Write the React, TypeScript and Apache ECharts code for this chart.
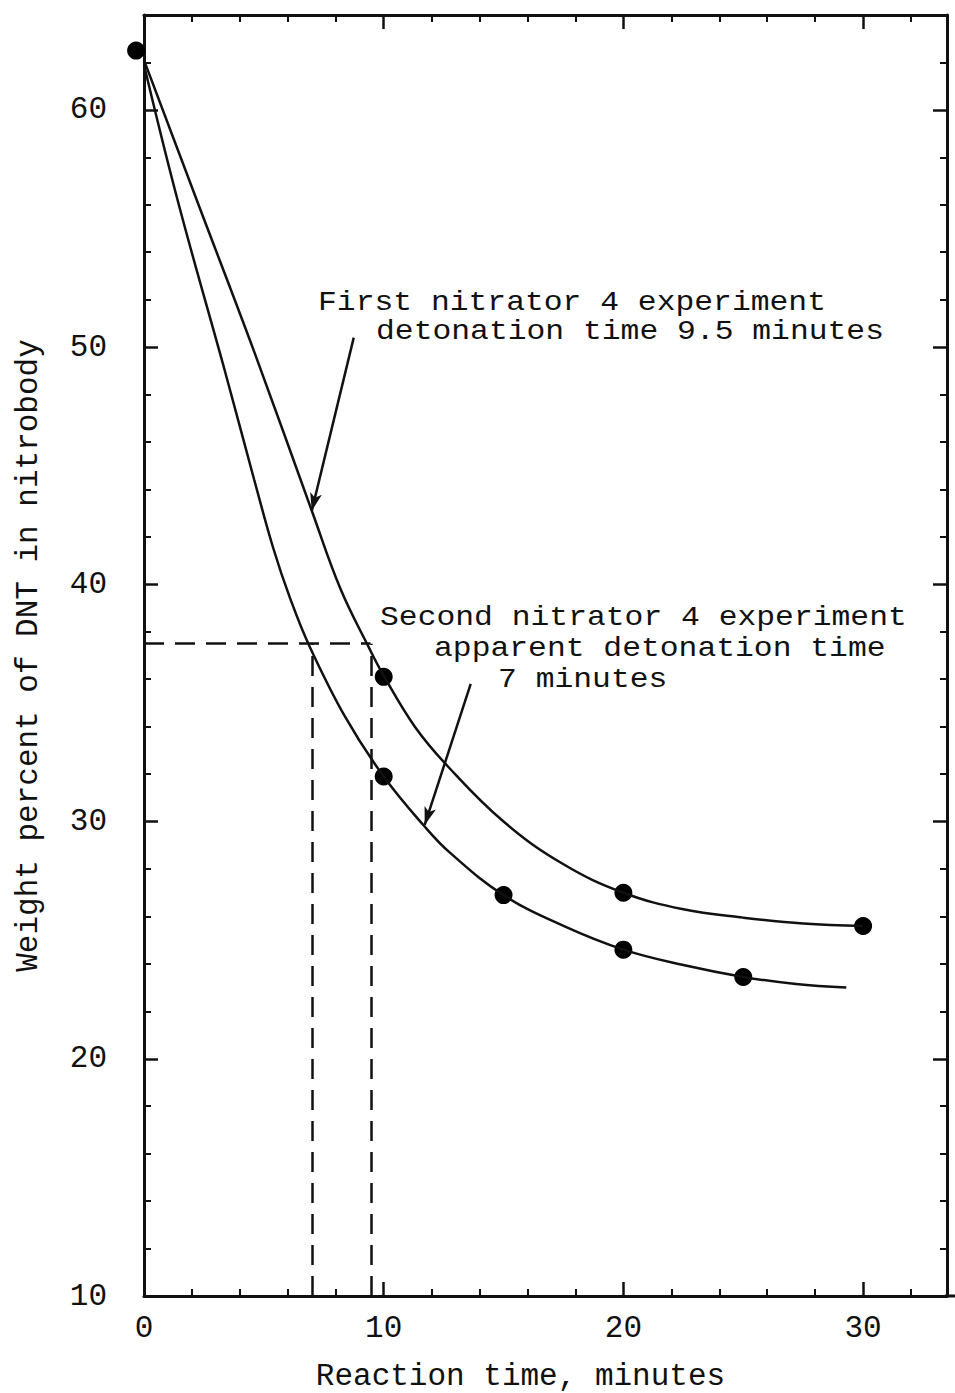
import React, { useEffect, useRef } from "react";
import * as echarts from "echarts";

// Smooth fitted curves
const upperCurveX = [0, 2.2, 4.6, 7.0, 8.2, 9.4, 10.0, 11.3, 12.7, 15.0, 17.5, 20.0, 22.5, 25.0, 27.5, 30.0];
const upperCurveY = [62.1, 56.2, 49.8, 43.1, 39.8, 37.3, 36.15, 34.0, 32.3, 30.0, 28.2, 27.0, 26.3, 25.95, 25.7, 25.6];
const lowerCurveX = [0, 1.4, 3.4, 4.6, 5.4, 6.1, 6.9, 8.4, 10.0, 11.7, 12.75, 15.0, 17.5, 20.0, 22.5, 25.0, 27.2, 29.3];
const lowerCurveY = [61.9, 56.2, 48.9, 44.4, 41.5, 39.4, 37.4, 34.4, 31.9, 29.8, 28.7, 26.9, 25.6, 24.6, 23.95, 23.45, 23.15, 23.0];

// Measured points
const upperPtsX = [-0.33, 10, 20, 30];
const upperPtsY = [62.5, 36.1, 27.0, 25.6];
const lowerPtsX = [10, 15, 20, 25];
const lowerPtsY = [31.9, 26.9, 24.6, 23.45];

// Reference construction lines
const levelY = 37.5;
const detTimes = [7.0, 9.5];

// Arrows [fromX, fromY, toX, toY]
const arrow1 = [8.75, 50.4, 7.0, 43.1];
const arrow2 = [13.63, 35.8, 11.71, 29.86];

const xTicks = [0, 10, 20, 30];
const yTicks = [10, 20, 30, 40, 50, 60];

const FONT = '"Liberation Mono", "DejaVu Sans Mono", monospace';
const INK = "#111";

const zip = (xs: number[], ys: number[]) => xs.map((x, i) => [x, ys[i]]);

export default function App() {
  const ref = useRef<HTMLDivElement>(null);
  useEffect(() => {
    const chart = echarts.init(ref.current!, null, { renderer: "svg" });
    const axisCommon = {
      type: "value" as const,
      splitLine: { show: false },
      axisLine: { show: true, onZero: false, lineStyle: { color: INK, width: 3 } },
      axisTick: { show: true, inside: true, length: 14, lineStyle: { color: INK, width: 2.5 } },
      minorTick: { show: true, splitNumber: 5, length: 7, lineStyle: { color: INK, width: 2 } },
    };
    const textEl = (text: string, x: number, y: number) => ({
      type: "text",
      x,
      y,
      scaleX: 1.12,
      style: {
        text,
        fontSize: 28,
        lineHeight: 26,
        fontFamily: FONT,
        fill: INK,
        align: "left",
        verticalAlign: "middle",
      },
    });
    const option: any = {
      animation: false,
      backgroundColor: "#fff",
      grid: { left: 144, right: 8, top: 15, bottom: 97, containLabel: false, outerBoundsMode: "none" },
      xAxis: [
        {
          ...axisCommon,
          position: "bottom",
          min: 0,
          max: 33.5,
          interval: 10,
          axisLabel: {
            margin: 17,
            fontSize: 31,
            fontFamily: FONT,
            color: INK,
            formatter: (v: number) => (xTicks.includes(v) ? String(v) : ""),
          },
          name: "Reaction time, minutes",
          nameLocation: "middle",
          nameGap: 65,
          nameTextStyle: { fontSize: 31, fontFamily: FONT, color: INK, padding: [0, 50, 0, 0] },
        },
        {
          ...axisCommon,
          position: "top",
          min: 0,
          max: 33.5,
          interval: 10,
          axisLabel: { show: false },
        },
      ],
      yAxis: [
        {
          ...axisCommon,
          position: "left",
          min: 10,
          max: 64,
          interval: 10,
          axisLabel: {
            margin: 37,
            fontSize: 31,
            fontFamily: FONT,
            color: INK,
            formatter: (v: number) => (yTicks.includes(v) ? String(v) : ""),
          },
          name: "Weight percent of DNT in nitrobody",
          nameLocation: "middle",
          nameGap: 100,
          nameTextStyle: { fontSize: 31, fontFamily: FONT, color: INK },
        },
        {
          ...axisCommon,
          position: "right",
          min: 10,
          max: 64,
          interval: 10,
          axisLabel: { show: false },
        },
      ],
      series: [
        {
          name: "First nitrator 4 experiment",
          type: "line",
          data: zip(upperCurveX, upperCurveY),
          smooth: 0.4,
          symbol: "none",
          clip: false,
          lineStyle: { color: INK, width: 2.5 },
          markLine: {
            silent: true,
            symbol: ["none", "arrow"],
            symbolSize: 16,
            label: { show: false },
            lineStyle: { color: INK, width: 2.5, type: "solid" },
            data: [
              [
                { coord: [arrow1[0], arrow1[1]], symbol: "none" },
                { coord: [arrow1[2], arrow1[3]], symbol: "arrow", symbolSize: [9, 18] },
              ],
              [
                { coord: [arrow2[0], arrow2[1]], symbol: "none" },
                { coord: [arrow2[2], arrow2[3]], symbol: "arrow", symbolSize: [9, 18] },
              ],
            ],
          },
        },
        {
          name: "Second nitrator 4 experiment",
          type: "line",
          data: zip(lowerCurveX, lowerCurveY),
          smooth: 0.4,
          symbol: "none",
          clip: false,
          lineStyle: { color: INK, width: 2.5 },
          markLine: {
            silent: true,
            symbol: ["none", "none"],
            label: { show: false },
            lineStyle: { color: INK, width: 2.5, type: [20, 11] },
            data: [
              [{ coord: [0, levelY] }, { coord: [detTimes[1] - 0.05, levelY] }],
              [{ coord: [detTimes[0], 10] }, { coord: [detTimes[0], levelY] }],
              [{ coord: [detTimes[1], 10] }, { coord: [detTimes[1], levelY] }],
            ],
          },
        },
        {
          type: "scatter",
          data: zip(upperPtsX, upperPtsY),
          symbolSize: 18,
          clip: false,
          itemStyle: { color: "#000", opacity: 1 },
        },
        {
          type: "scatter",
          data: zip(lowerPtsX, lowerPtsY),
          symbolSize: 18,
          clip: false,
          itemStyle: { color: "#000", opacity: 1 },
        },
      ],
      graphic: [
        { type: "line", shape: { x1: 945, y1: 1296, x2: 955, y2: 1296 }, style: { stroke: INK, lineWidth: 3 } },
        textEl("First nitrator 4 experiment", 318, 302),
        textEl("detonation time 9.5 minutes", 376, 331),
        textEl("Second nitrator 4 experiment", 380, 617),
        textEl("apparent detonation time", 434, 648),
        textEl("7 minutes", 498, 679),
      ],
    };
    chart.setOption(option);
    return () => chart.dispose();
  }, []);
  return (
    <div
      ref={ref}
      style={{ position: "absolute", left: 0, top: 0, width: 955, height: 1393, background: "#fff" }}
    />
  );
}
